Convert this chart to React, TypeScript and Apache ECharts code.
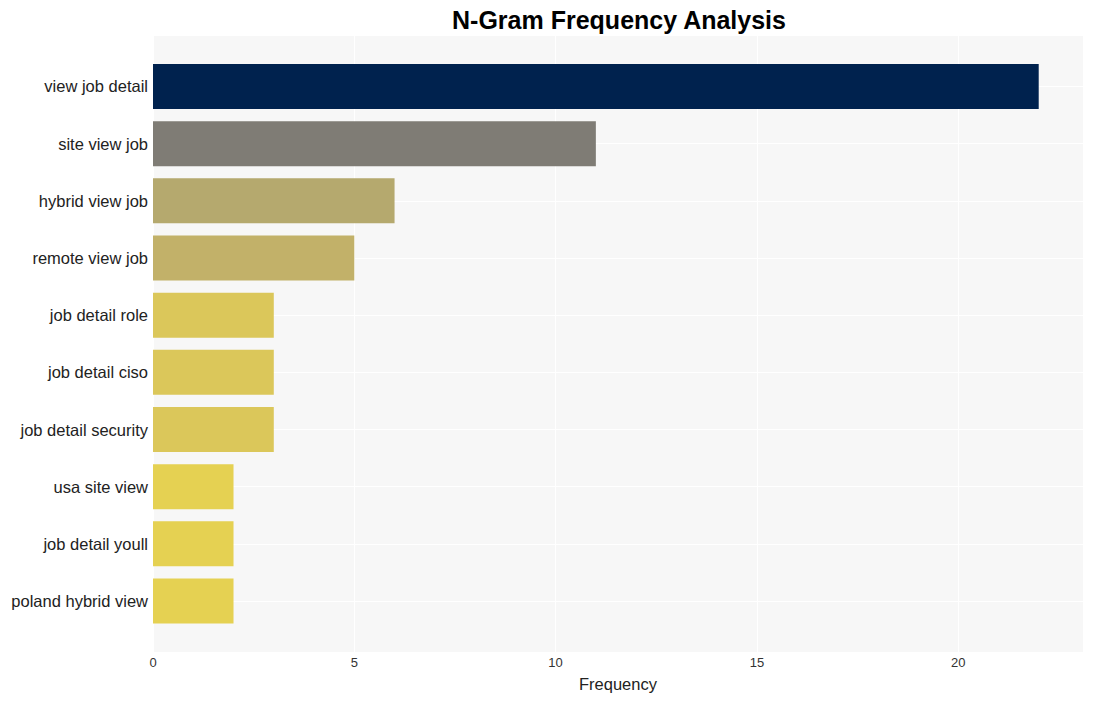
import React, { useEffect, useRef } from "react";
import * as echarts from "echarts";

const categories = [
  "view job detail",
  "site view job",
  "hybrid view job",
  "remote view job",
  "job detail role",
  "job detail ciso",
  "job detail security",
  "usa site view",
  "job detail youll",
  "poland hybrid view",
];
const values = [22, 11, 6, 5, 3, 3, 3, 2, 2, 2];
const barColors = [
  "#00224e",
  "#7f7c75",
  "#b5a96e",
  "#c2b169",
  "#dbc75a",
  "#dbc75a",
  "#dbc75a",
  "#e5d152",
  "#e5d152",
  "#e5d152",
];
const xTicks = [0, 5, 10, 15, 20];
const xMax = 23.1;
const titleText = "N-Gram Frequency Analysis";
const xTitle = "Frequency";

export default function App() {
  const ref = useRef<HTMLDivElement>(null);
  useEffect(() => {
    if (!ref.current) return;
    const chart = echarts.init(ref.current, undefined, { renderer: "svg" });
    const font = "'Liberation Sans', Arial, sans-serif";
    chart.setOption({
      animation: false,
      textStyle: { fontFamily: font },
      title: {
        text: titleText,
        left: 614,
        textAlign: "center",
        top: 2,
        textStyle: { fontSize: 25, fontWeight: "bold", color: "#000", fontFamily: font },
      },
      grid: [
        {
          left: 153,
          right: 10,
          top: 36,
          bottom: 49,
          show: true,
          backgroundColor: "#f7f7f7",
          borderWidth: 0,
          containLabel: false,
        },
        {
          left: 153,
          right: 10,
          top: 57.9,
          bottom: 71.4,
          containLabel: false,
        },
      ],
      xAxis: [
        {
          gridIndex: 0,
          type: "value",
          min: 0,
          max: xMax,
          interval: 5,
          axisLine: { show: false },
          axisTick: { show: false },
          axisLabel: {
            color: "#333",
            fontSize: 13,
            margin: 4,
            formatter: (v: number) => (xTicks.includes(v) ? String(v) : ""),
          },
          splitLine: { show: true, lineStyle: { color: "#ffffff", width: 1 } },
          name: xTitle,
          nameLocation: "middle",
          nameGap: 23,
          nameTextStyle: { fontSize: 16.5, color: "#222" },
        },
        {
          gridIndex: 1,
          type: "value",
          min: 0,
          max: xMax,
          show: false,
          splitLine: { show: false },
        },
      ],
      yAxis: [
        {
          gridIndex: 0,
          type: "value",
          show: false,
          splitLine: { show: false },
        },
        {
          gridIndex: 1,
          type: "category",
          data: categories,
          inverse: true,
          axisLine: { show: false },
          axisTick: { show: false },
          splitLine: { show: false },
          axisLabel: { color: "#222", fontSize: 16.5, margin: 5 },
        },
      ],
      series: [
        {
          type: "scatter",
          xAxisIndex: 1,
          yAxisIndex: 1,
          data: [],
          z: 1,
          silent: true,
          markLine: {
            z: 1,
            silent: true,
            symbol: "none",
            label: { show: false },
            lineStyle: { color: "#ffffff", width: 1, type: "solid" },
            data: categories.map((c) => ({ yAxis: c })),
          },
        },
        {
          type: "bar",
          xAxisIndex: 1,
          yAxisIndex: 1,
          z: 3,
          barWidth: 45,
          data: values.map((v, i) => ({ value: v, itemStyle: { color: barColors[i] } })),
        },
      ],
    });
    return () => chart.dispose();
  }, []);
  return <div ref={ref} style={{ width: 1093, height: 701, position: "absolute", left: 0, top: 0 }} />;
}
